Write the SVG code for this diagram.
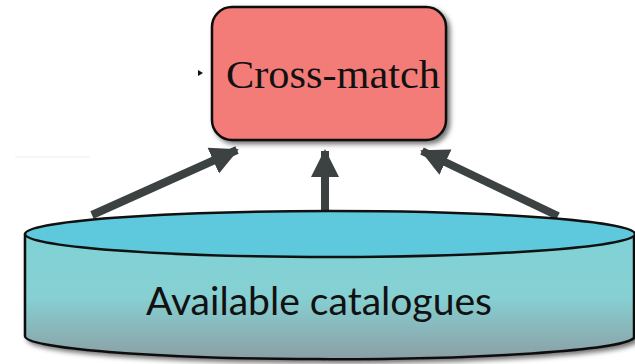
<svg xmlns="http://www.w3.org/2000/svg" width="635" height="364" viewBox="0 0 635 364">
<style>
.conn{stroke:#3c4241;stroke-width:8;fill:none;marker-end:url(#ah)}
.lbl1{font-family:"Liberation Serif","DejaVu Serif",serif;font-size:40px;fill:#111}
.lbl2{font-family:"Lato","Open Sans",sans-serif;font-size:39px;fill:#111}
</style>
<defs>
<marker id="ah" markerUnits="userSpaceOnUse" markerWidth="30" markerHeight="30" viewBox="0 0 30 30" refX="26" refY="15" orient="auto">
<path d="M0,1 L28,15 L0,29 Z" fill="#3c4241"/>
</marker>
<filter id="sh" x="-10%" y="-10%" width="130%" height="130%">
<feDropShadow dx="3" dy="3" stdDeviation="2.5" flood-color="#000" flood-opacity="0.55"/>
</filter>
<linearGradient id="body" x1="0" y1="0" x2="0" y2="1">
<stop offset="0" stop-color="#7fd2d6"/>
<stop offset="0.5" stop-color="#86d0d3"/>
<stop offset="1" stop-color="#8b9fa4"/>
</linearGradient>
</defs>
<g id="connectors">
<line class="conn" x1="92" y1="215" x2="237" y2="150"/>
<line class="conn" x1="325" y1="210" x2="325" y2="151"/>
<line class="conn" x1="558" y1="216" x2="422" y2="151"/>
</g>
<g id="catalogues">
<path d="M25,235 L25,336 A305,23 0 0 0 634,338 L634,235 Z" fill="url(#body)" stroke="#111" stroke-width="2.5" filter="url(#sh)"/>
<ellipse cx="330" cy="234" rx="305" ry="23" fill="#5ec8dd" stroke="#111" stroke-width="2.5"/>
<text class="lbl2" x="319" y="315" text-anchor="middle" textLength="346" lengthAdjust="spacingAndGlyphs">Available catalogues</text>
</g>
<g id="crossmatch">
<rect x="212" y="7" width="234" height="133" rx="20" ry="20" fill="#f47c78" stroke="#111" stroke-width="2.5" filter="url(#sh)"/>
<text class="lbl1" x="333" y="88" text-anchor="middle" textLength="214" lengthAdjust="spacingAndGlyphs">Cross-match</text>
</g>
<path d="M198,70 L203,73 L198,76 Z" fill="#111"/>
<line x1="15" y1="157" x2="90" y2="157" stroke="#eee" stroke-width="1"/>
</svg>
